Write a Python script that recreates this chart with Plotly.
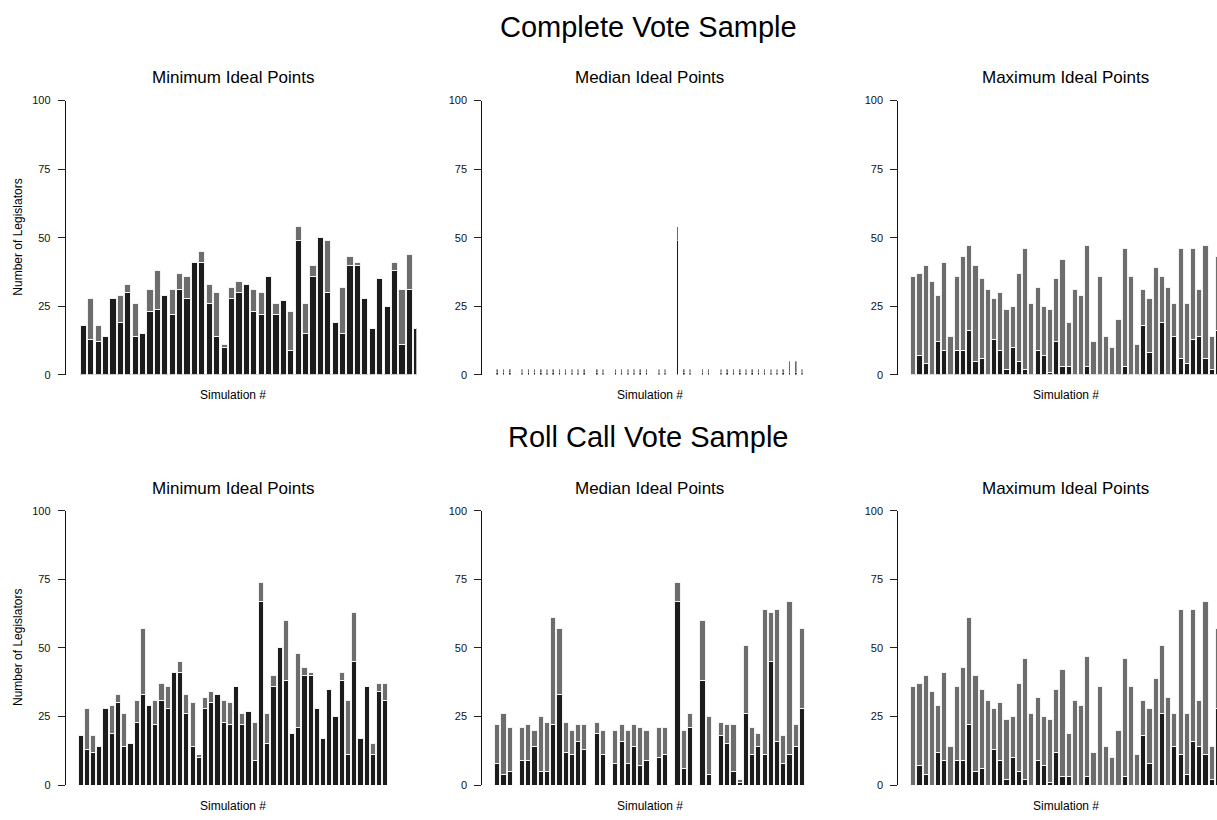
import plotly.graph_objects as go

W, H = 1217, 820

# ---------------- data ----------------
min_complete_black = [18,13,12,14,28,19,30,14,15,23,24,29,22,31,28,41,41,26,14,10,28,30,33,23,22,36,22,27,9,49,15,36,50,30,19,15,40,40,28,17,35,25,38,11,31,17]
min_complete_total = [18,28,18,14,28,29,33,26,15,31,38,29,31,37,36,41,45,33,30,11,32,34,33,31,30,36,26,27,23,54,26,40,50,49,19,32,43,41,28,17,35,25,41,31,44,17]

med_complete_black = [1,1,1,0,1,1,1,1,1,1,1,1,1,1,1,0,1,1,0,1,1,1,1,1,1,0,1,1,0,49,1,1,0,1,1,0,1,1,1,1,1,1,1,1,1,1,1,1,1,1]
med_complete_total = [2,2,2,0,2,2,2,2,2,2,2,2,2,2,2,0,2,2,0,2,2,2,2,2,2,0,2,2,0,54,2,2,0,2,2,0,2,2,2,2,2,2,2,2,2,2,2,5,5,2]

max_complete_black = [0,7,4,0,12,9,0,9,9,16,5,6,0,13,9,2,10,5,2,0,9,7,1,12,3,3,0,0,3,0,0,0,0,0,3,0,0,18,8,0,19,0,14,6,4,13,14,6,2,16]
max_complete_total = [36,37,40,34,29,41,14,36,43,47,40,35,31,28,30,24,25,37,46,26,32,25,24,35,42,19,31,29,47,12,36,14,10,20,46,36,11,31,28,39,36,32,26,46,26,46,31,47,14,43]

min_rollcall_black = [18,13,12,14,28,19,30,14,15,23,33,29,22,31,28,41,41,26,14,10,28,30,33,23,22,36,22,27,9,67,15,36,50,38,19,21,40,40,28,17,35,25,38,11,45,17,36,11,34,31]
min_rollcall_total = [18,28,18,14,28,29,33,26,15,31,57,29,31,37,36,41,45,33,30,11,32,34,33,31,30,36,26,27,23,74,26,40,50,60,19,48,43,41,28,17,35,25,41,31,63,17,36,15,37,37]

med_rollcall_black = [8,4,5,0,9,9,14,5,5,22,33,12,11,16,13,0,19,11,0,8,16,8,14,7,9,0,10,11,0,67,6,21,0,38,4,0,18,15,5,1,26,11,14,11,45,16,8,11,14,28]
med_rollcall_total = [22,26,21,0,21,22,20,25,23,61,57,23,20,22,22,0,23,20,0,20,22,20,22,21,20,0,21,21,0,74,20,26,0,60,25,0,23,22,22,2,51,21,19,64,63,64,18,67,22,57]

max_rollcall_black = [0,7,4,0,12,9,0,9,9,22,5,6,0,13,9,2,10,5,2,0,9,7,1,12,3,3,0,0,3,0,0,0,0,0,3,0,0,18,8,0,26,0,14,11,4,16,14,11,2,28]
max_rollcall_total = [36,37,40,34,29,41,14,36,43,61,40,35,31,28,30,24,25,37,46,26,32,25,24,35,42,19,31,29,47,12,36,14,10,20,46,36,11,31,28,39,51,32,26,64,26,64,31,67,14,57]

section_titles = ["Complete Vote Sample", "Roll Call Vote Sample"]
panel_titles = ["Minimum Ideal Points", "Median Ideal Points", "Maximum Ideal Points"]
y_ticks = [0, 25, 50, 75, 100]

BLACK = "#1c1c1c"
GRAY = "#6d6d6d"
EDGE = "#f2f2f2"
FONT = "Liberation Sans, Arial, Helvetica, sans-serif"

# ---------------- layout geometry (pixels) ----------------
axis_left = [65.7, 482.3, 898.3]
fig_right = [416.3, 832.7, 1217.0]
plot_w = 334.6
row_y0 = [374.3, 790.7]     # pixel of value 0
row_y100 = [96.0, 512.3]    # pixel of value 100
row_shift = 416.4

std_unit = plot_w / 64.584
std_x0 = -2.192

# (row, col, black, total, px per unit, left x limit, bar width, edge width)
panels = [
    (0, 0, min_complete_black, min_complete_total, 7.41 / 1.2, -2.15, 1.0, 1.0),
    (0, 1, med_complete_black, med_complete_total, std_unit, std_x0, 0.32, 0.4),
    (0, 2, max_complete_black, max_complete_total, std_unit, std_x0, 1.0, 1.0),
    (1, 0, min_rollcall_black, min_rollcall_total, std_unit, std_x0, 1.0, 1.0),
    (1, 1, med_rollcall_black, med_rollcall_total, std_unit, std_x0, 1.0, 1.0),
    (1, 2, max_rollcall_black, max_rollcall_total, std_unit, std_x0, 1.0, 1.0),
]

fig = go.Figure()
layout = {}
annotations = []

for i, (row, col, blk, tot, unit, x0, bw, ew) in enumerate(panels, start=1):
    xs = [1.2 * k - 0.5 for k in range(1, len(blk) + 1)]
    gray = [t - b for b, t in zip(blk, tot)]
    xa = "x" if i == 1 else f"x{i}"
    ya = "y" if i == 1 else f"y{i}"
    common = dict(x=xs, width=[bw] * len(xs), xaxis=xa, yaxis=ya, showlegend=False,
                  hoverinfo="skip")
    fig.add_trace(go.Bar(y=blk, marker=dict(color=BLACK, line=dict(color=EDGE, width=ew)), **common))
    fig.add_trace(go.Bar(y=gray, marker=dict(color=GRAY, line=dict(color=EDGE, width=ew)), **common))

    left = axis_left[col]
    right = fig_right[col]
    x1 = x0 + (right - left) / unit
    layout[f"xaxis{i if i > 1 else ''}"] = dict(
        domain=[left / W, min(right / W, 1.0)], range=[x0, x1], anchor=ya,
        visible=False, fixedrange=True)
    layout[f"yaxis{i if i > 1 else ''}"] = dict(
        domain=[1 - row_y0[row] / H, 1 - row_y100[row] / H], range=[0, 100], anchor=xa,
        tickvals=y_ticks, ticks="outside", ticklen=7, tickwidth=1, tickcolor="#222",
        showline=True, linecolor="#111", linewidth=1, showgrid=False, zeroline=False,
        tickfont=dict(family=FONT, size=11, color="#111"), ticklabelstandoff=5,
        fixedrange=True)

    cx = left + plot_w / 2
    annotations.append(dict(text=panel_titles[col], x=cx / W, y=1 - (73 + row * row_shift) / H,
                            xref="paper", yref="paper", showarrow=False,
                            font=dict(family=FONT, size=17, color="#000"),
                            xanchor="center", yanchor="middle"))
    annotations.append(dict(text="Simulation #", x=cx / W, y=1 - (395 + row * row_shift) / H,
                            xref="paper", yref="paper", showarrow=False,
                            font=dict(family=FONT, size=12, color="#000"),
                            xanchor="center", yanchor="middle"))
    if col == 0:
        annotations.append(dict(text="Number of Legislators", x=18 / W,
                                y=1 - (row_y0[row] + row_y100[row]) / 2 / H,
                                xref="paper", yref="paper", showarrow=False, textangle=-90,
                                font=dict(family=FONT, size=12, color="#000"),
                                xanchor="center", yanchor="middle"))

for r, t in enumerate(section_titles):
    annotations.append(dict(text=t, x=648 / W, y=1 - (21 + r * row_shift) / H,
                            xref="paper", yref="paper", showarrow=False,
                            font=dict(family=FONT, size=29, color="#000"),
                            xanchor="center", yanchor="middle"))

fig.update_layout(
    width=W, height=H, margin=dict(l=0, r=0, t=0, b=0),
    paper_bgcolor="white", plot_bgcolor="rgba(0,0,0,0)",
    barmode="stack", annotations=annotations, **layout)

fig.write_html("out.html", config={"displayModeBar": False})
